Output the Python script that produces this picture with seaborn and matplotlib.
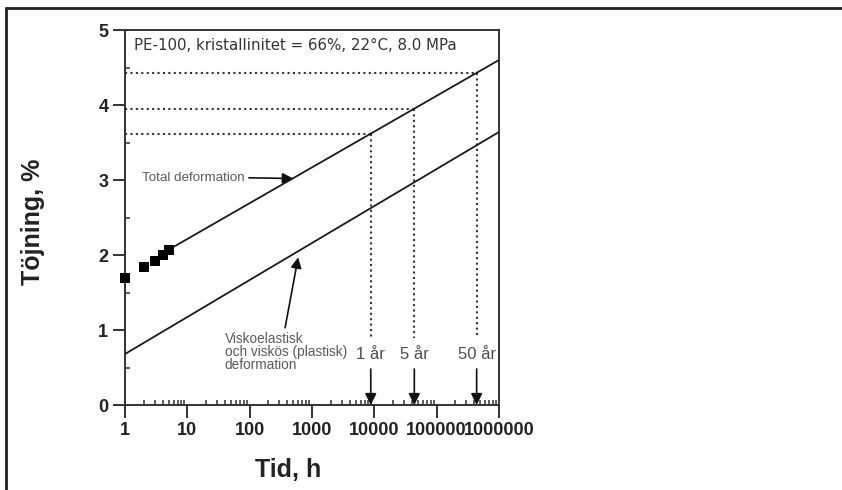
import numpy as np
import pandas as pd
import matplotlib
matplotlib.use("Agg")
import matplotlib.pyplot as plt
import seaborn as sns
from matplotlib.lines import Line2D
from matplotlib.ticker import FixedLocator, FixedFormatter, LogLocator, MultipleLocator, NullFormatter

# Measured creep points (time in hours, strain in %)
meas_t = [1, 2, 3, 4, 5]
meas_e = [1.69, 1.84, 1.92, 2.00, 2.07]

# Extrapolated total deformation line
total_t = [5, 1e6]
total_e = [2.07, 4.60]

# Visco-elastic and viscous (plastic) deformation line
visco_t = [1, 1e6]
visco_e = [0.68, 3.64]

# Reference service times
year_h = [8760, 43800, 438000]
year_labels = ["1 år", "5 år", "50 år"]

x_ticks = [1, 10, 100, 1000, 10000, 100000, 1000000]
x_ticklabels = ["1", "10", "100", "1000", "10000", "100000", "1000000"]
y_ticks = [0, 1, 2, 3, 4, 5]

sns.set_theme(style="white")
plt.rcParams["font.family"] = ["Liberation Sans", "DejaVu Sans"]

W, H = 842, 490
fig = plt.figure(figsize=(W / 100, H / 100), dpi=100)
ax = fig.add_axes([125 / W, 1 - 405 / H, 374 / W, 375 / H])

ink = "#1a1a1a"
df_meas = pd.DataFrame({"t": meas_t, "e": meas_e})
df_total = pd.DataFrame({"t": total_t, "e": total_e})
df_visco = pd.DataFrame({"t": visco_t, "e": visco_e})

sns.lineplot(data=df_total, x="t", y="e", ax=ax, color=ink, lw=1.3, zorder=3)
sns.lineplot(data=df_visco, x="t", y="e", ax=ax, color=ink, lw=1.3, zorder=3)
sns.scatterplot(data=df_meas, x="t", y="e", ax=ax, marker="s", s=62,
                color="black", edgecolor="black", linewidth=0, zorder=4, clip_on=False)

ax.set_xscale("log")
ax.set_xlim(1, 1e6)
ax.set_ylim(0, 5)

# Dotted guides from each service time up to the total deformation line
dot_style = dict(color="#333333", lw=1.5, ls=(0, (1, 1.6)), zorder=2)
for h, lab in zip(year_h, year_labels):
    level = np.interp(np.log10(h), np.log10(total_t), total_e)
    ax.plot([1, h], [level, level], **dot_style)
    ax.plot([h, h], [level, 0.9], **dot_style)
    ax.text(h, 0.68, lab, ha="center", va="center", fontsize=12, color="#4d4d4d")
    ax.annotate("", xy=(h, 0.0), xytext=(h, 0.48),
                arrowprops=dict(arrowstyle="-|>", color="#111111", lw=1.2,
                                mutation_scale=17, shrinkA=0, shrinkB=0))

ax.text(1.4, 4.79, "PE-100, kristallinitet = 66%, 22°C, 8.0 MPa",
        fontsize=10.8, color="#333333", ha="left", va="center", family="DejaVu Sans")

ax.annotate("Total deformation", xy=(500, 3.02), xytext=(1.85, 3.03),
            ha="left", va="center", fontsize=9.6, color="#5a5a5a",
            arrowprops=dict(arrowstyle="-|>", color="#111111", lw=1.2,
                            mutation_scale=16, shrinkA=1, shrinkB=0,
                            relpos=(1.0, 0.5)))

ax.text(40, 0.97, "Viskoelastisk\noch viskös (plastisk)\ndeformation",
        ha="left", va="top", fontsize=9.8, color="#5a5a5a", linespacing=0.92)
ax.annotate("", xy=(600, 1.97), xytext=(370, 1.03),
            arrowprops=dict(arrowstyle="-|>", color="#111111", lw=1.2,
                            mutation_scale=16, shrinkA=0, shrinkB=0))

# Axes styling
for side in ["left", "right", "top", "bottom"]:
    ax.spines[side].set_visible(True)
    ax.spines[side].set_color("#333333")
    ax.spines[side].set_linewidth(1.4)

ax.xaxis.set_major_locator(FixedLocator(x_ticks))
ax.xaxis.set_major_formatter(FixedFormatter(x_ticklabels))
ax.xaxis.set_minor_locator(LogLocator(base=10, subs=np.arange(2, 10)))
ax.xaxis.set_minor_formatter(NullFormatter())
ax.yaxis.set_major_locator(FixedLocator(y_ticks))
ax.yaxis.set_minor_locator(MultipleLocator(0.5))

ax.tick_params(axis="both", which="major", direction="out", length=9, width=1.4,
               color="#333333", labelsize=13, labelcolor="#222222", pad=3,
               bottom=True, left=True, top=False, right=False)
ax.tick_params(axis="both", which="minor", direction="in", length=3.5, width=1.1,
               color="#333333", bottom=True, left=True, top=False, right=False)
for lbl in ax.get_xticklabels() + ax.get_yticklabels():
    lbl.set_fontweight("bold")

ax.set_xlabel("Tid, h", fontsize=18, fontweight="bold", color="#222222")
ax.set_ylabel("Töjning, %", fontsize=18, fontweight="bold", color="#222222")
ax.xaxis.set_label_coords(0.436, -0.14)
ax.yaxis.set_label_coords(-0.215, 0.488)

# Frame lines along the top and left of the figure
fig.add_artist(Line2D([6 / W, 1], [1 - 8.5 / H, 1 - 8.5 / H],
                      transform=fig.transFigure, color="#222222", lw=2))
fig.add_artist(Line2D([6 / W, 6 / W], [0, 1 - 8.5 / H],
                      transform=fig.transFigure, color="#222222", lw=2))

fig.savefig("out.png", dpi=100, facecolor="white")
